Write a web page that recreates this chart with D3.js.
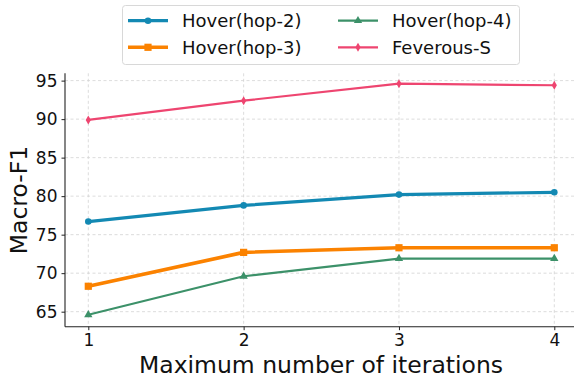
<!DOCTYPE html>
<html>
<head>
<meta charset="utf-8">
<script src="https://cdn.jsdelivr.net/npm/d3@7"></script>
<style>
  html, body { margin: 0; padding: 0; background: #fff; }
  svg { display: block; font-family: "DejaVu Sans", sans-serif; }
</style>
</head>
<body>
<svg id="chart" width="574" height="380"></svg>
<script>
// Iteration counts on the x axis
const iterations = [1, 2, 3, 4];
const xTicks = [1, 2, 3, 4];
const yTicks = [65, 70, 75, 80, 85, 90, 95];

// Macro-F1 per dataset
const hoverHop2 = [76.7, 78.8, 80.2, 80.5];
const hoverHop3 = [68.3, 72.7, 73.3, 73.3];
const hoverHop4 = [64.6, 69.6, 71.9, 71.9];
const feverousS = [89.9, 92.4, 94.6, 94.4];

const seriesNames = ["Hover(hop-2)", "Hover(hop-3)", "Hover(hop-4)", "Feverous-S"];
const seriesValues = [hoverHop2, hoverHop3, hoverHop4, feverousS];

const styles = [
  { color: "#1389b3", width: 3.2, marker: d3.symbolCircle, msize: 34 },
  { color: "#fb8200", width: 3.6, marker: d3.symbolSquare, msize: 52 },
  { color: "#3c9169", width: 2.2, marker: d3.symbolTriangle, msize: 30 },
  { color: "#ee4570", width: 2.2, marker: "diamond", msize: 0 }
];

const svg = d3.select("#chart");
const plotLeft = 65, plotRight = 577.6, plotTop = 73.3, plotBottom = 326.7;

const x = d3.scaleLinear().domain([0.85, 4.15]).range([plotLeft, plotRight]);
const y = d3.scaleLinear().domain([63.05, 95.95]).range([plotBottom, plotTop]);

// grid
const grid = svg.append("g");
grid.selectAll("line.gx").data(xTicks).join("line")
  .attr("x1", d => x(d)).attr("x2", d => x(d))
  .attr("y1", plotTop).attr("y2", plotBottom)
  .attr("stroke", "#d3d3d3").attr("stroke-width", 0.8).attr("stroke-dasharray", "3,2.5");
grid.selectAll("line.gy").data(yTicks).join("line")
  .attr("x1", plotLeft).attr("x2", plotRight)
  .attr("y1", d => y(d)).attr("y2", d => y(d))
  .attr("stroke", "#d3d3d3").attr("stroke-width", 0.8).attr("stroke-dasharray", "3,2.5");

// axes
const xAxis = d3.axisBottom(x).tickValues(xTicks).tickSize(3.5).tickPadding(4).tickFormat(d3.format("d"));
const yAxis = d3.axisLeft(y).tickValues(yTicks).tickSize(3.5).tickPadding(4).tickFormat(d3.format("d"));

const gx = svg.append("g").attr("transform", `translate(0,${plotBottom})`).call(xAxis);
const gy = svg.append("g").attr("transform", `translate(${plotLeft},0)`).call(yAxis);
[gx, gy].forEach(g => {
  g.select(".domain").attr("stroke", "#222").attr("stroke-width", 1.1);
  g.selectAll(".tick line").attr("stroke", "#222").attr("stroke-width", 1);
  g.selectAll(".tick text").attr("fill", "#111").style("font-size", "17px")
    .style("font-family", "'DejaVu Sans', sans-serif");
});
gx.select(".domain").attr("d", `M${plotLeft},0H${plotRight}`);
gy.select(".domain").attr("d", `M0,${plotTop}V${plotBottom}`);

// axis titles
svg.append("text").attr("x", 321).attr("y", 373)
  .attr("text-anchor", "middle").style("font-size", "23.5px").attr("fill", "#111")
  .text("Maximum number of iterations");
svg.append("text").attr("transform", "translate(27,200) rotate(-90)")
  .attr("text-anchor", "middle").style("font-size", "23.5px").attr("fill", "#111")
  .text("Macro-F1");

const diamondPath = "M0,-4.5L2.6,0L0,4.5L-2.6,0Z";
function markerPath(s) {
  return s.marker === "diamond" ? diamondPath : d3.symbol().type(s.marker).size(s.msize)();
}

// lines
const line = d3.line().x((d, i) => x(iterations[i])).y(d => y(d));
const plot = svg.append("g");
seriesValues.forEach((vals, k) => {
  const s = styles[k];
  plot.append("path").datum(vals).attr("d", line)
    .attr("fill", "none").attr("stroke", s.color).attr("stroke-width", s.width)
    .attr("stroke-linejoin", "round").attr("stroke-linecap", "butt");
  plot.selectAll(null).data(vals).join("path")
    .attr("transform", (d, i) => `translate(${x(iterations[i])},${y(d)})`)
    .attr("d", markerPath(s)).attr("fill", s.color);
});

// legend
const lg = svg.append("g");
lg.append("rect").attr("x", 122.5).attr("y", 5.5).attr("width", 397).attr("height", 59)
  .attr("rx", 3).attr("fill", "#fff").attr("fill-opacity", 0.8)
  .attr("stroke", "#d8d8d8").attr("stroke-width", 1);
const legendPos = [[128, 20.7], [128, 47.3], [338, 20.7], [338, 47.3]];
seriesNames.forEach((name, k) => {
  const s = styles[k];
  const [lx, ly] = legendPos[k];
  lg.append("line").attr("x1", lx).attr("x2", lx + 40).attr("y1", ly).attr("y2", ly)
    .attr("stroke", s.color).attr("stroke-width", s.width);
  lg.append("path").attr("transform", `translate(${lx + 20},${ly})`)
    .attr("d", markerPath(s)).attr("fill", s.color);
  lg.append("text").attr("x", lx + 54).attr("y", ly).attr("dy", "0.36em")
    .style("font-size", "18px").attr("fill", "#111").text(name);
});
</script>
</body>
</html>
